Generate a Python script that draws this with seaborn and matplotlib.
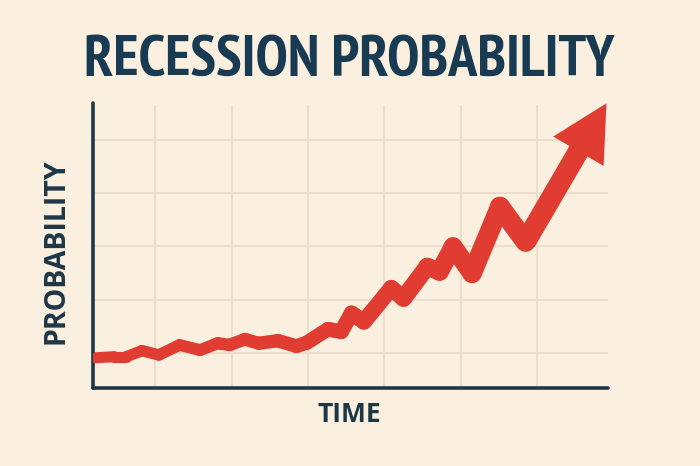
import numpy as np
import matplotlib
matplotlib.use("Agg")
import matplotlib.pyplot as plt
from matplotlib import font_manager as fm
import seaborn as sns

# ---- data ----
time = [0.5, 4.1, 6.5, 9.5, 12.8, 16.8, 20.8, 24.2, 26.5, 29.5, 32.2, 35.9,
        39.5, 41.5, 45.6, 48.2, 50.2, 52.6, 57.9, 60.3, 64.9, 67.3, 69.9,
        73.6, 79.0, 84.0, 99.7]
prob = [10.6, 11.0, 11.0, 13.1, 11.6, 15.1, 13.3, 15.7, 15.1, 17.1, 15.7, 16.6,
        14.7, 15.9, 20.6, 19.8, 26.2, 23.3, 35.0, 31.5, 42.6, 40.8, 49.6,
        40.2, 63.6, 51.3, 99.9]
x_grid = [12.0, 26.9, 41.7, 56.6, 71.5, 86.3]
y_grid = [12.3, 31.0, 49.7, 68.4, 87.1]
title = "RECESSION PROBABILITY"
xlabel = "TIME"
ylabel = "PROBABILITY"

# ---- style ----
BG = "#FBF0DF"
GRID = "#EADFCA"
RED = "#E03C31"
AXIS = "#1E3747"
TITLE = "#183B53"

sns.set_theme(style="white")
plt.rcParams["font.family"] = ["DejaVu Sans"]


def _is_bold(f):
    w = f.weight
    if isinstance(w, str):
        return w.lower() in ("bold", "heavy", "black", "extra bold", "ultrabold", "demibold", "semibold")
    return w >= 600


def pick_condensed_bold():
    fonts = fm.fontManager.ttflist
    for key in ("Narrow", "Condensed"):
        c = [f for f in fonts if key in f.name and _is_bold(f) and "italic" not in f.style]
        if c:
            return fm.FontProperties(fname=c[0].fname)
    c = [f for f in fonts if f.stretch in ("condensed", "semi-condensed", "extra-condensed")
         and _is_bold(f) and f.style == "normal"]
    if c:
        return fm.FontProperties(fname=c[0].fname)
    return fm.FontProperties(family="DejaVu Sans", weight="bold")


fig = plt.figure(figsize=(7.0, 4.66), dpi=100, facecolor=BG)
ax = fig.add_axes([93 / 700, 1 - 388 / 466, (608 - 93) / 700, (388 - 103) / 466])
ax.set_facecolor(BG)
ax.set_xlim(0, 100)
ax.set_ylim(0, 100)

for gx in x_grid:
    ax.axvline(gx, ymin=0, ymax=0.99, color=GRID, lw=1.5, zorder=0)
for gy in y_grid:
    ax.axhline(gy, color=GRID, lw=1.5, zorder=0)

# red line with growing thickness
n_seg = len(time) - 2
for i in range(n_seg):
    t = i / max(n_seg - 1, 1)
    w = 8.0 + 6.5 * t ** 1.6
    sns.lineplot(x=time[i:i + 2], y=prob[i:i + 2], ax=ax, color=RED, lw=w,
                 solid_capstyle="round", solid_joinstyle="round", zorder=3,
                 sort=False, estimator=None)

# final arrow segment with head
ax.annotate("", xy=(time[-1], prob[-1]), xytext=(time[-2], prob[-2]),
            arrowprops=dict(arrowstyle="simple,head_length=40,head_width=42,tail_width=15",
                            mutation_scale=1, color=RED, shrinkA=0, shrinkB=0, lw=0),
            zorder=4)

for s in ["top", "right"]:
    ax.spines[s].set_visible(False)
for s in ["left", "bottom"]:
    ax.spines[s].set_color(AXIS)
    ax.spines[s].set_linewidth(2.6)
    ax.spines[s].set_capstyle("round")
ax.set_xticks([])
ax.set_yticks([])
ax.set_xlabel("")
ax.set_ylabel("")

fp = pick_condensed_bold()
fp.set_size(36)
ttl = fig.text(349 / 700, 1 - 61 / 466, title, ha="center", va="center", color=TITLE,
               fontproperties=fp)
renderer = fig.canvas.get_renderer()
wpx = ttl.get_window_extent(renderer).width
new_size = min(36 * 555.0 / wpx, 42)
ttl.set_fontsize(new_size)

fig.text(349 / 700, 1 - 415 / 466, xlabel, ha="center", va="center", color=AXIS,
         fontsize=19, fontweight="bold", family=["Open Sans", "DejaVu Sans"])
fig.text(56 / 700, 1 - 251 / 466, ylabel, ha="center", va="center", color=AXIS,
         fontsize=20.5, fontweight="bold", rotation=90,
         family=["Open Sans", "DejaVu Sans"])

fig.savefig("out.png", dpi=100, facecolor=BG)
